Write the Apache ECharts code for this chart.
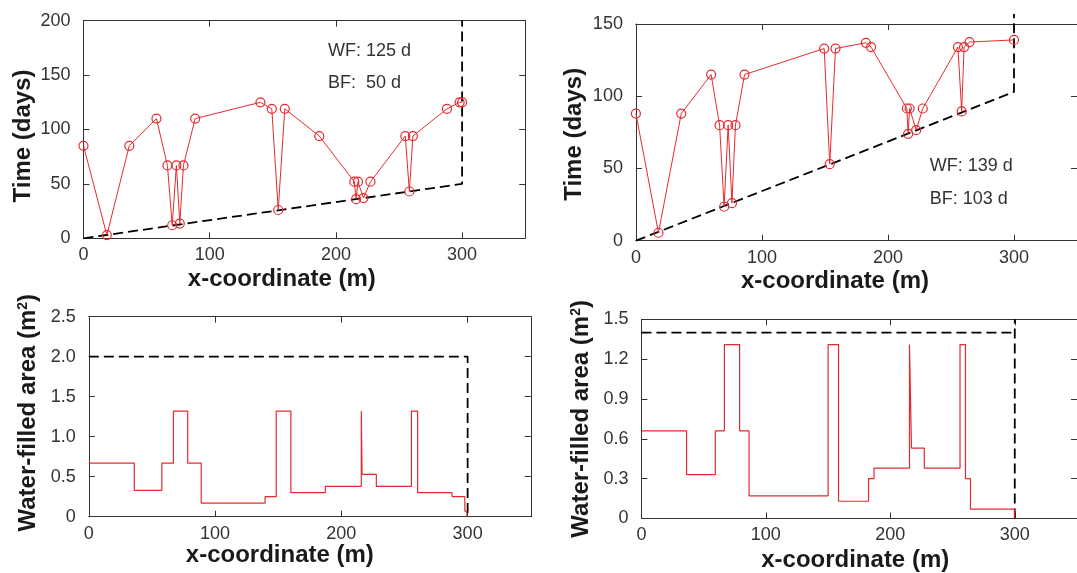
<!DOCTYPE html>
<html><head><meta charset="utf-8">
<script src="https://cdn.jsdelivr.net/npm/echarts@6/dist/echarts.min.js"></script>
<style>html,body{margin:0;padding:0;background:#fff}#c{width:1077px;height:573px}</style>
</head><body><div id="c"></div>
<script>
// ---------------- data ----------------
// Top-left: arrival time along reach (scenario 1)
const xTL = [0, 18.5, 36.3, 57.8, 66.5, 70.3, 73.6, 76.3, 79.2, 88.5, 140.2, 149.2, 154.3, 159.5, 186.8, 214.6, 216, 217.5, 221.8, 227.4, 255, 258.2, 261, 288, 298, 300];
const tTL = [85, 3, 85, 110, 67, 12, 67, 13.5, 67, 110, 125, 119, 26, 119, 94, 52, 36, 52, 37, 52, 94, 43, 94, 119, 125, 125];
// Top-right: arrival time along reach (scenario 2)
const xTR = [0, 17.9, 36, 59.7, 66.4, 70, 73.2, 76.2, 79, 86.2, 149.4, 153.8, 158.4, 182.5, 186.6, 215, 216, 217.2, 222.4, 227.6, 255.5, 258.5, 260.4, 264.7, 300];
const tTR = [88, 5.5, 88, 115, 80, 23.5, 80, 26, 80, 115, 133, 53, 133, 137, 134, 91.5, 74, 91.5, 76.5, 91.5, 134, 89.5, 134, 137.5, 139];
// Wetting-front / base-flow times (days)
const wfDays = [125, 139];
const bfDays = [50, 103];
// Bottom-left: water-filled area steps (segment start x, area)
const xBL = [0, 36, 57.8, 67, 78.3, 89, 139.6, 148.4, 160, 187.3, 215.8, 216.4, 227.7, 255.5, 260.4, 287.7, 297.8, 299.4, 300];
const aBL = [0.67, 0.33, 0.67, 1.32, 0.67, 0.17, 0.25, 1.32, 0.3, 0.38, 1.32, 0.53, 0.38, 1.32, 0.3, 0.25, 0.07, 0, 0];
// Bottom-right: water-filled area steps
const xBR = [0, 36.3, 59.4, 66.7, 78.9, 86.5, 150, 158.4, 182.5, 186.9, 215.4, 217, 227.3, 256, 260.4, 264.4, 300];
const aBR = [0.66, 0.33, 0.66, 1.31, 0.66, 0.17, 1.31, 0.13, 0.3, 0.38, 1.31, 0.53, 0.38, 1.31, 0.3, 0.07, 0];
// Capacity (dashed) and reach length
const capacity = [2.0, 1.4];
const reachEnd = 300;
const topRightDashTop = 157;
// Axis ticks
const xTicks = {min: 0, max: 350, interval: 100};
const yTicksTL = {min: 0, max: 200, interval: 50};
const yTicksTR = {min: 0, max: 150, interval: 50};
const yTicksBL = {min: 0, max: 2.5, interval: 0.5};
const yTicksBR = {min: 0, max: 1.5, interval: 0.3};

// ---------------- style ----------------
const FONT = '"Liberation Sans", Arial, Helvetica, sans-serif';
const RED = '#e52a2f';
const AXC = '#333';
const LC = '#333';
const NC = '#1a1a1a';

const grids = [
  {left: 83.5, top: 20.7, width: 441.7, height: 217.6},
  {left: 635.9, top: 24, width: 441.9, height: 216.7},
  {left: 88.85, top: 316.7, width: 441.9, height: 200},
  {left: 641.4, top: 319.3, width: 441.8, height: 200}
];

function mkX(gi, gap, pad) {
  const base = {gridIndex: gi, type: 'value', min: xTicks.min, max: xTicks.max, interval: xTicks.interval,
    axisLine: {show: true, onZero: false, lineStyle: {color: AXC, width: 1}},
    axisTick: {show: true, inside: true, length: 6, lineStyle: {color: AXC}},
    splitLine: {show: false}};
  return [
    Object.assign({}, base, {position: 'bottom', name: 'x-coordinate (m)', nameLocation: 'middle', nameGap: gap,
      nameTextStyle: {fontFamily: FONT, fontSize: 24, fontWeight: 'bold', color: NC, padding: pad},
      axisLabel: {show: true, margin: 8, fontFamily: FONT, fontSize: 18, color: LC, showMaxLabel: false}}),
    Object.assign({}, base, {position: 'top', axisLabel: {show: false}})
  ];
}
function mkY(gi, ticks, name, gap, pad, fmt) {
  const base = {gridIndex: gi, type: 'value', min: ticks.min, max: ticks.max, interval: ticks.interval,
    axisLine: {show: true, onZero: false, lineStyle: {color: AXC, width: 1}},
    axisTick: {show: true, inside: true, length: 6, lineStyle: {color: AXC}},
    splitLine: {show: false}};
  return [
    Object.assign({}, base, {position: 'left', name: name, nameLocation: 'middle', nameGap: gap,
      nameTextStyle: {fontFamily: FONT, fontSize: 24, fontWeight: 'bold', color: NC, padding: pad,
        rich: {sup: {fontFamily: FONT, fontSize: 14, fontWeight: 'bold', color: NC, verticalAlign: 'top', padding: [0, 0, 6, 0]}}},
      axisLabel: {show: true, margin: 13, fontFamily: FONT, fontSize: 18, color: LC, formatter: fmt}}),
    Object.assign({}, base, {position: 'right', axisLabel: {show: false}})
  ];
}
const fmtDec = v => (v === 0 ? '0' : v.toFixed(1));

const xAxis = [].concat(
  mkX(0, 29, [0, 45, 0, 0]),
  mkX(1, 29, [0, 43, 0, 0]),
  mkX(2, 25.5, [0, 60, 0, 0]),
  mkX(3, 29.5, [0, 8, 0, 0])
);
const yAxis = [].concat(
  mkY(0, yTicksTL, 'Time (days)', 48, [0, 13, 0, 0], null),
  mkY(1, yTicksTR, 'Time (days)', 49.7, [0, 4, 0, 0], null),
  mkY(2, yTicksBL, 'Water-filled area (m{sup|2})', 48.4, [0, 0, 0, 8], fmtDec),
  mkY(3, yTicksBR, 'Water-filled area (m{sup|2})', 48.3, [0, 0, 0, 0], fmtDec)
);

const zip = (xs, ys) => xs.map((x, i) => [x, ys[i]]);
const dash = {color: '#000', width: 1.8, type: [10, 5]};
function timeSeries(g, xs, ys) {
  return {type: 'line', xAxisIndex: 2 * g, yAxisIndex: 2 * g, data: zip(xs, ys),
    symbol: 'circle', symbolSize: 9, showSymbol: true,
    itemStyle: {color: 'rgba(0,0,0,0)', borderColor: RED, borderWidth: 1.2},
    lineStyle: {color: RED, width: 1}, z: 3, emphasis: {disabled: true}};
}
function stepSeries(g, xs, ys) {
  return {type: 'line', xAxisIndex: 2 * g, yAxisIndex: 2 * g, data: zip(xs, ys), step: 'end',
    symbol: 'none', lineStyle: {color: RED, width: 1.2}, z: 3, emphasis: {disabled: true}};
}
function dashSeries(g, pts, clip) {
  return {type: 'line', xAxisIndex: 2 * g, yAxisIndex: 2 * g, data: pts, symbol: 'none',
    lineStyle: dash, clip: clip, z: 2, emphasis: {disabled: true}};
}

const series = [
  dashSeries(0, [[0, 0], [reachEnd, bfDays[0]], [reachEnd, yTicksTL.max]], true),
  timeSeries(0, xTL, tTL),
  dashSeries(1, [[0, 0], [reachEnd, bfDays[1]], [reachEnd, topRightDashTop]], false),
  timeSeries(1, xTR, tTR),
  dashSeries(2, [[0, capacity[0]], [reachEnd, capacity[0]], [reachEnd, 0]], true),
  stepSeries(2, xBL, aBL),
  dashSeries(3, [[0, capacity[1]], [reachEnd, capacity[1]]], true),
  dashSeries(3, [[reachEnd, 0], [reachEnd, yTicksBR.max]], true),
  stepSeries(3, xBR, aBR)
];

const annFont = '18px ' + FONT;
const annPos = [[328, 50.7, 82.7], [929.7, 166, 199]];
const graphic = [];
annPos.forEach((p, i) => {
  graphic.push({type: 'text', x: p[0], y: p[1], silent: true,
    style: {text: 'WF: ' + wfDays[i] + ' d', font: annFont, fill: '#333', verticalAlign: 'middle'}});
  graphic.push({type: 'text', x: p[0], y: p[2], silent: true,
    style: {text: 'BF: ' + String(bfDays[i]).padStart(3, ' ') + ' d', font: annFont, fill: '#333', verticalAlign: 'middle'}});
});

const chart = echarts.init(document.getElementById('c'), null, {renderer: 'canvas'});
chart.setOption({
  animation: false,
  backgroundColor: '#fff',
  grid: grids,
  xAxis: xAxis,
  yAxis: yAxis,
  series: series,
  graphic: graphic
});
</script></body></html>
